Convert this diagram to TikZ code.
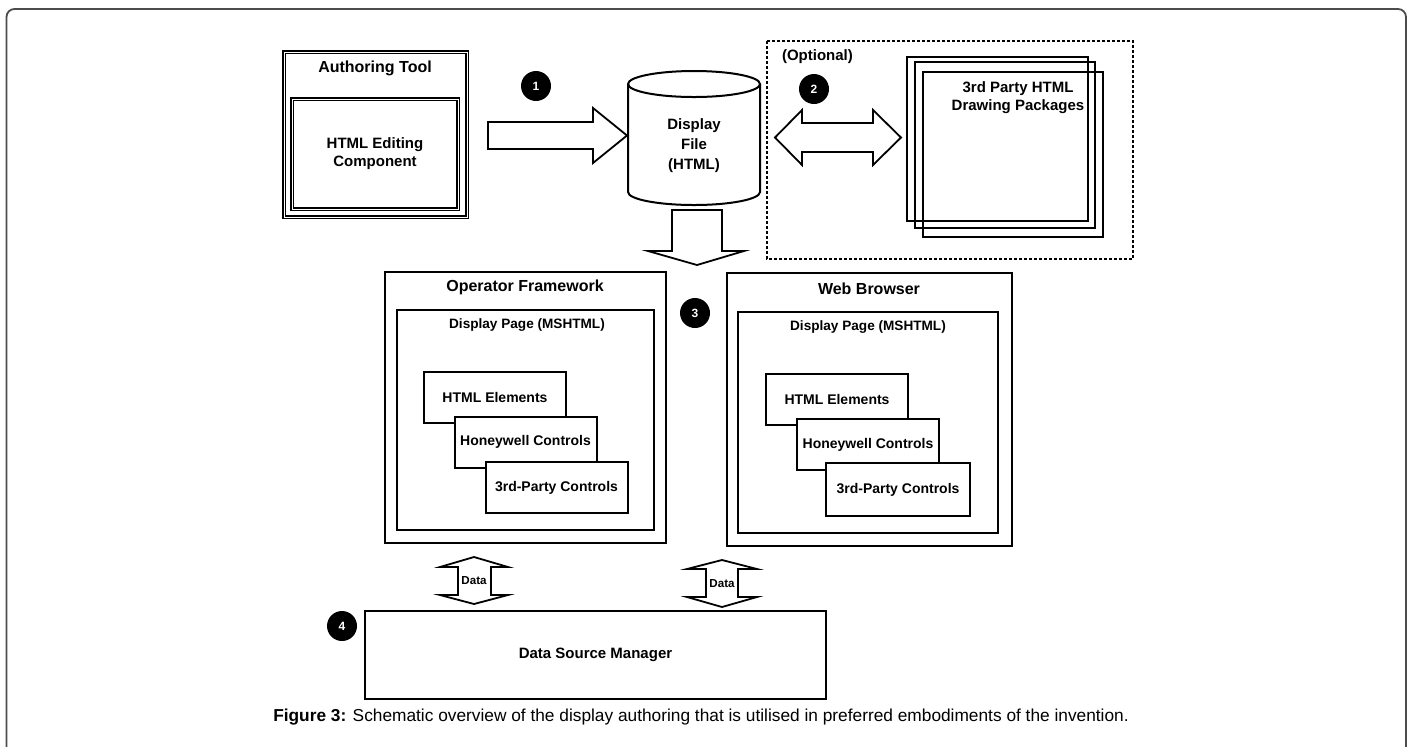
\documentclass[tikz,border=0pt]{standalone}
\usepackage{fontspec}
\setmainfont{Liberation Sans}

\begin{document}
\begin{tikzpicture}[
    x=0.5pt, y=-0.5pt, % one unit is one pixel of the reference
    box/.style={draw, line width=1pt, inner sep=0pt},
    dblbox/.style={draw, double, double distance=0.5pt, line width=0.55pt, inner sep=0pt},
    inbox/.style={box, fill=white, minimum width=71pt, minimum height=25.5pt, font=\fontsize{7}{8}\selectfont\bfseries},
    title/.style={font=\fontsize{8}{9}\selectfont\bfseries},
    sub/.style={font=\fontsize{6.8}{8}\selectfont\bfseries},
    txt/.style={align=center, font=\fontsize{7.5}{9}\selectfont\bfseries},
    num/.style={circle, fill=black, text=white, inner sep=0pt, minimum size=15pt, font=\fontsize{6}{7}\selectfont\bfseries},
    blk/.style={draw, line width=0.9pt, line join=miter}
]
\clip (0,0) rectangle (1413,746);

% Frame
\draw[line width=0.9pt, gray!60!black, rounded corners=4pt] (6.5,9) rectangle (1406,790);

% Authoring tool
\node[dblbox, minimum width=91.5pt, minimum height=82.5pt] (auth) at (375.5,134.5) {};
\node[title] (authT) at (375,68) {Authoring Tool};
\node[dblbox, minimum width=83pt, minimum height=55pt, txt] (edit) at (375,154) {HTML Editing\\Component};

% Display file (cylinder)
\draw[line width=1pt] (694,84) ellipse [x radius=66, y radius=13];
\draw[line width=1pt] (628,84) -- (628,192) arc[start angle=180, end angle=0, x radius=66, y radius=13] -- (760,84);
\node[txt, font=\fontsize{7.5}{10}\selectfont\bfseries] (file) at (694,146) {Display\\File\\(HTML)};

% Optional part
\draw[line width=0.8pt, dash pattern=on 1.5pt off 1pt] (767,41) rectangle (1133,259);
\node[anchor=west, txt] (opt) at (775,57) {(Optional)};
\node[box, minimum width=90.5pt, minimum height=82pt] (pkgA) at (997.5,139) {};
\node[box, minimum width=90pt, minimum height=83pt] (pkgB) at (1005,145) {};
\node[box, minimum width=90pt, minimum height=82.5pt] (pkgC) at (1013,154.5) {};
\node[txt] (pkgT) at (1018,98) {3rd Party HTML\\Drawing Packages};

% Block arrows
\draw[blk] (488,122) -- (593,122) -- (593,108) -- (627,135.5) -- (593,163) -- (593,149) -- (488,149) -- cycle;
\draw[blk] (775,137.5) -- (802,110) -- (802,123) -- (873,123) -- (873,110) -- (901,137.5)
    -- (873,165) -- (873,152) -- (802,152) -- (802,165) -- cycle;
\draw[blk] (672,210) -- (722,210) -- (722,251) -- (744,251) -- (697,265) -- (648,251) -- (672,251) -- cycle;

% Operator framework
\node[box, minimum width=140.5pt, minimum height=135.5pt] (op) at (525.5,407.5) {};
\node[title] (opT) at (525,287) {Operator Framework};
\node[box, minimum width=128.5pt, minimum height=110pt] (opPage) at (525.5,420) {};
\node[sub] (opPageT) at (527,325) {Display Page (MSHTML)};
\node[inbox] (opHtml) at (495,397.5) {HTML Elements};
\node[inbox] (opHoney) at (525.5,442) {Honeywell Controls};
\node[inbox] (opThird) at (556.5,487.5) {3rd-Party Controls};

% Web browser
\node[box, minimum width=142.5pt, minimum height=136.5pt] (web) at (869.5,409.5) {};
\node[title] (webT) at (869,289) {Web Browser};
\node[box, minimum width=130pt, minimum height=110.5pt] (webPage) at (868,422.5) {};
\node[sub] (webPageT) at (868,327) {Display Page (MSHTML)};
\node[inbox] (webHtml) at (837,399.5) {HTML Elements};
\node[inbox] (webHoney) at (868,444.5) {Honeywell Controls};
\node[inbox, minimum width=72pt, minimum height=26.5pt] (webThird) at (898,489.5) {3rd-Party Controls};

% Data arrows
\draw[blk] (474,557) -- (508,567) -- (491,567) -- (491,595) -- (508,595) -- (474,604)
    -- (440,595) -- (458,595) -- (458,567) -- (440,567) -- cycle;
\node[font=\fontsize{5.8}{7}\selectfont\bfseries] (data1) at (474,581) {Data};
\draw[blk] (722,560) -- (757,569) -- (738,569) -- (738,597) -- (757,597) -- (722,607)
    -- (687,597) -- (706,597) -- (706,569) -- (687,569) -- cycle;
\node[font=\fontsize{5.8}{7}\selectfont\bfseries] (data2) at (722,584) {Data};

% Data source manager
\node[box, minimum width=230.5pt, minimum height=44pt, txt] (dsm) at (595.5,655) {Data Source Manager};

% Numbers
\node[num] (n1) at (536,86) {1};
\node[num] (n2) at (814,89) {2};
\node[num] (n3) at (695,313) {3};
\node[num] (n4) at (342,626) {4};

% Caption
\node[font=\fontsize{8.65}{10}\selectfont] (cap) at (701,717) {\textbf{Figure 3:} Schematic overview of the display authoring that is utilised in preferred embodiments of the invention.};

\end{tikzpicture}
\end{document}
